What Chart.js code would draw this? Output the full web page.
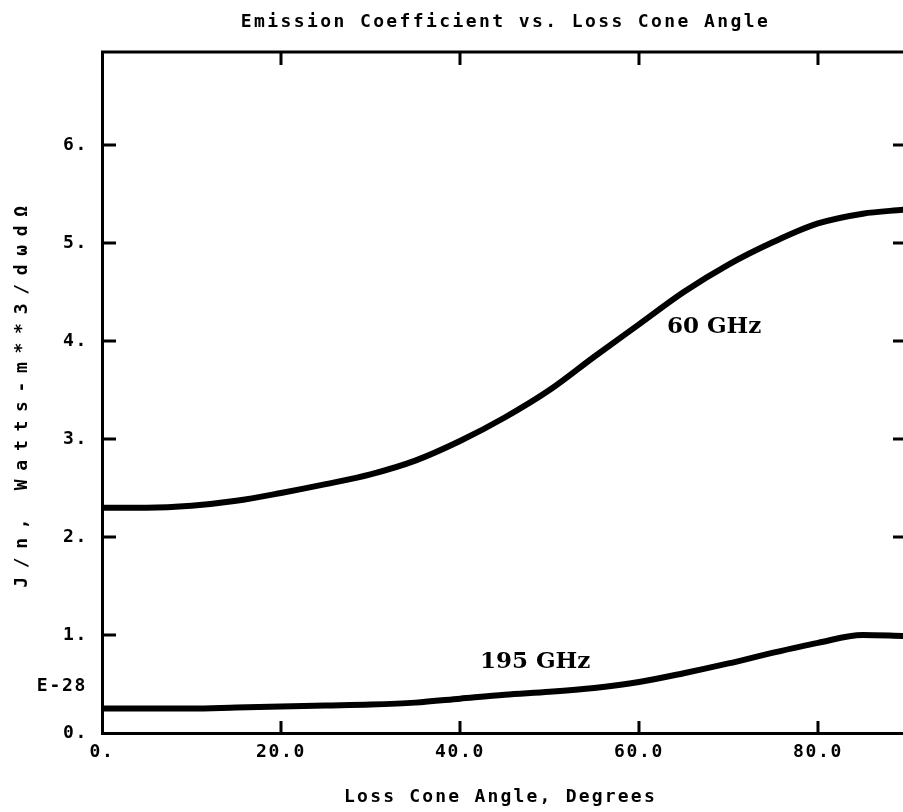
<!DOCTYPE html>
<html>
<head>
<meta charset="utf-8">
<title>Emission Coefficient vs. Loss Cone Angle</title>
<script src="https://cdn.jsdelivr.net/npm/chart.js@4.4.0/dist/chart.umd.min.js"></script>
<style>
  html, body { margin: 0; padding: 0; background: #fff; }
  #wrap { width: 903px; height: 812px; position: relative; }
</style>
</head>
<body>
<div id="wrap"><canvas id="chart"></canvas></div>
<script>
// Loss cone angle (degrees) where the curves were read
const angles = [0, 5, 10, 15, 20, 25, 30, 35, 40, 45, 50, 55, 60, 65, 70, 75, 80, 85, 89.5];

// J/n in units of 1E-28
const ghz60 = [2.30, 2.30, 2.32, 2.37, 2.45, 2.54, 2.64, 2.78, 2.98, 3.22, 3.50, 3.84, 4.17, 4.50, 4.78, 5.01, 5.20, 5.30, 5.34];
const ghz195 = [0.25, 0.25, 0.25, 0.26, 0.27, 0.28, 0.29, 0.31, 0.35, 0.39, 0.42, 0.46, 0.52, 0.61, 0.71, 0.82, 0.92, 1.00, 0.99];

const seriesNames = ['60 GHz', '195 GHz'];
// where the curve names sit, in data units (angle, value)
const seriesLabelAt = [[68.4, 4.14], [48.4, 0.72]];

const xMin = 0, xMax = 89.5, xStep = 20;
const yMin = 0, yMax = 6.95, yStep = 1;

const titleText = 'Emission Coefficient vs. Loss Cone Angle';
const xTitle = 'Loss Cone Angle, Degrees';
const yTitle = 'J/n, Watts-m**3/d\u03c9d\u03a9';
const yExponent = 'E-28';

const plotFont = '"DejaVu Sans Mono", monospace';
const labelFont = '"DejaVu Serif", serif';

function toPoints(values) {
    return angles.map((a, i) => ({ x: a, y: values[i] }));
}

// Spaced-out plotter lettering for the tick labels
const spacing = {
    id: 'spacing',
    beforeUpdate(chart) { chart.ctx.letterSpacing = '1.7px'; },
    beforeDraw(chart) { chart.ctx.letterSpacing = '1.7px'; }
};

// Frame, inward ticks, titles and curve names
const frame = {
    id: 'frame',
    afterDraw(chart) {
        const ctx = chart.ctx;
        const area = chart.chartArea;
        const xs = chart.scales.x;
        const ys = chart.scales.y;

        ctx.save();
        ctx.strokeStyle = '#000';
        ctx.lineWidth = 3;
        ctx.lineCap = 'butt';

        // top border
        ctx.beginPath();
        ctx.moveTo(area.left - 1, area.top);
        ctx.lineTo(area.right, area.top);
        ctx.stroke();

        // ticks along top and bottom
        xs.ticks.forEach(t => {
            if (t.value === xMin) return;
            const px = xs.getPixelForValue(t.value);
            ctx.beginPath();
            ctx.moveTo(px, area.bottom);
            ctx.lineTo(px, area.bottom - 12);
            ctx.moveTo(px, area.top);
            ctx.lineTo(px, area.top + 13);
            ctx.stroke();
        });

        // ticks along left and right
        ys.ticks.forEach(t => {
            if (t.value === yMin) return;
            const py = ys.getPixelForValue(t.value);
            ctx.beginPath();
            ctx.moveTo(area.left, py);
            ctx.lineTo(area.left + 14, py);
            ctx.moveTo(area.right, py);
            ctx.lineTo(area.right - 10, py);
            ctx.stroke();
        });

        ctx.fillStyle = '#000';
        ctx.textAlign = 'center';
        ctx.textBaseline = 'middle';

        // title
        ctx.font = 'bold 18px ' + plotFont;
        ctx.letterSpacing = '2.4px';
        ctx.fillText(titleText, (area.left + area.right) / 2 + 3, 22);

        // x axis title
        ctx.letterSpacing = '2.2px';
        ctx.fillText(xTitle, (area.left + area.right) / 2 - 2, 797);

        // y axis title
        ctx.save();
        ctx.translate(22, (area.top + area.bottom) / 2);
        ctx.rotate(-Math.PI / 2);
        ctx.letterSpacing = '8.7px';
        ctx.fillText(yTitle, 0, 0);
        ctx.restore();

        // exponent marker
        ctx.letterSpacing = '1.7px';
        ctx.textAlign = 'right';
        ctx.fillText(yExponent, 87, 686);

        // curve names
        ctx.letterSpacing = '0px';
        ctx.font = 'bold 23px ' + labelFont;
        ctx.textAlign = 'center';
        seriesNames.forEach((name, i) => {
            const [a, v] = seriesLabelAt[i];
            ctx.fillText(name, xs.getPixelForValue(a), ys.getPixelForValue(v));
        });

        ctx.restore();
    }
};

const lineStyle = {
    borderColor: '#000',
    borderWidth: 6,
    pointRadius: 0,
    fill: false,
    cubicInterpolationMode: 'monotone',
    borderCapStyle: 'round',
    borderJoinStyle: 'round'
};

new Chart(document.getElementById('chart'), {
    type: 'line',
    data: {
        datasets: [
            { label: seriesNames[0], data: toPoints(ghz60), ...lineStyle },
            { label: seriesNames[1], data: toPoints(ghz195), ...lineStyle }
        ]
    },
    options: {
        responsive: true,
        maintainAspectRatio: false,
        animation: false,
        layout: { padding: { top: 52, right: 0, bottom: 0, left: 0 } },
        plugins: {
            legend: { display: false },
            tooltip: { enabled: false },
            title: { display: false }
        },
        scales: {
            x: {
                type: 'linear',
                min: xMin,
                max: xMax,
                afterFit: s => { s.height = 79; },
                grid: { display: false, drawTicks: false },
                border: { display: true, color: '#000', width: 3 },
                ticks: {
                    stepSize: xStep,
                    includeBounds: false,
                    maxRotation: 0,
                    padding: 9,
                    color: '#000',
                    font: { family: plotFont, size: 18, weight: 'bold' },
                    callback: v => v === 0 ? '0.' : v.toFixed(1)
                }
            },
            y: {
                type: 'linear',
                min: yMin,
                max: yMax,
                afterFit: s => { s.width = 102; },
                grid: { display: false, drawTicks: false },
                border: { display: true, color: '#000', width: 3 },
                ticks: {
                    stepSize: yStep,
                    includeBounds: false,
                    padding: 14,
                    color: '#000',
                    font: { family: plotFont, size: 18, weight: 'bold' },
                    callback: v => v + '.'
                }
            }
        }
    },
    plugins: [spacing, frame]
});
</script>
</body>
</html>
